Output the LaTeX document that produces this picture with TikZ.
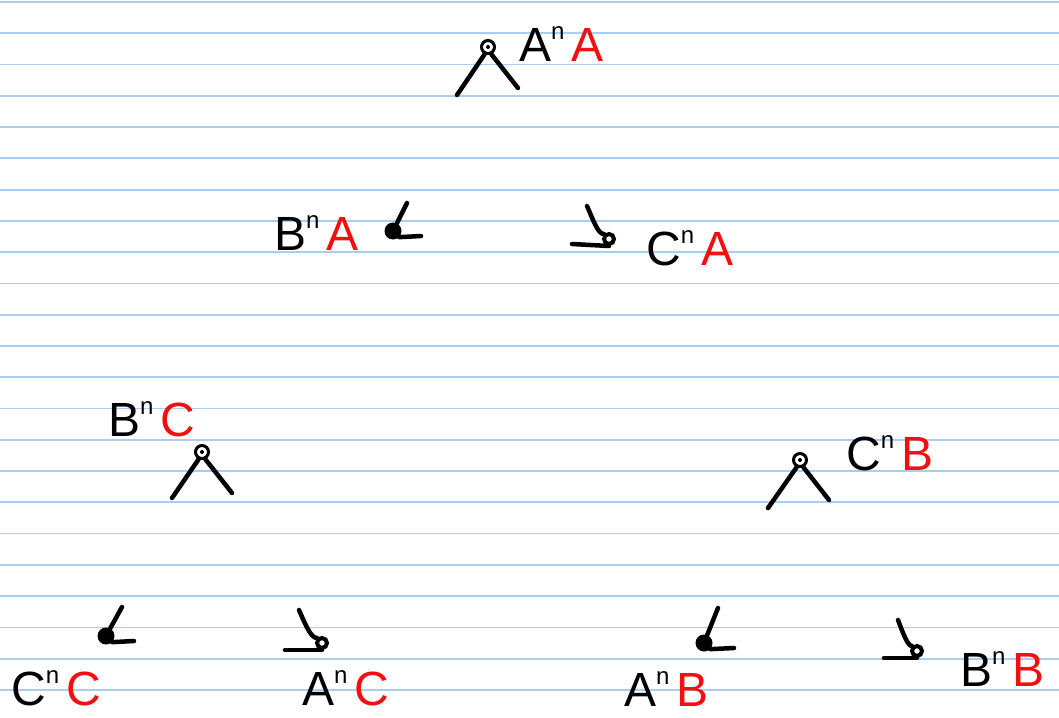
\documentclass[tikz,border=0pt]{standalone}
\usepackage{fontspec}
\setmainfont{Liberation Sans}
\usetikzlibrary{positioning}
\definecolor{PaperRule}{HTML}{A9CDF3}
\definecolor{InkRed}{HTML}{F01010}
\tikzset{
  ink/.style={line width=4.5pt,line cap=round,line join=round,draw=black},
  rule/.style={draw=PaperRule,line width=1.8pt},
  word/.style={anchor=base west,inner sep=0pt,font=\fontsize{48}{48}\selectfont},
  knot/.style={circle,draw=black,line width=3pt,inner sep=0pt,minimum size=13pt},
  leafL/.style={circle,fill=black,inner sep=0pt,minimum size=17pt},
  leafR/.style={circle,draw=black,line width=4pt,inner sep=0pt,minimum size=10pt}
}
\newcommand{\pw}[2]{#1\raisebox{22pt}{\fontsize{24}{24}\selectfont n}\hspace{0.15em}\textcolor{InkRed}{#2}}

\begin{document}
\begin{tikzpicture}[x=1pt,y=-1pt]
  \useasboundingbox (0,0) rectangle (1059,717);
  \fill[white] (0,0) rectangle (1059,717);
  \foreach \k in {0,...,22}
    \draw[rule] (0,{2+31.27*\k}) -- (1059,{2+31.27*\k});

  % top split
  \node[knot] (root) at (488,47) {};
  \fill (root) circle (2pt);
  \coordinate (rootL) at (457,95);
  \coordinate (rootR) at (518,88);
  \draw[ink] (root.-115) -- (rootL);
  \draw[ink] (root.-65) -- (rootR);
  \node[word] (rootLbl) at (519,62) {\pw{A}{A}};

  % second row
  \node[leafL] (bnaDot) at (393,231) {};
  \coordinate (bnaTip) at (407,203);
  \coordinate (bnaEnd) at (421,236);
  \draw[ink] (bnaDot) -- (bnaTip);
  \draw[ink] (bnaDot.south east) -- (bnaEnd);
  \node[word] (bnaLbl) at (274,250) {\pw{B}{A}};

  \node[leafR] (cnaDot) at (609,239) {};
  \coordinate (cnaTop) at (587,206);
  \coordinate (cnaTail) at (572,244);
  \draw[ink] (cnaTop) .. controls (594,222) and (598,234) .. (cnaDot.north west);
  \draw[ink] (cnaTail) -- (cnaDot.south);
  \node[word] (cnaLbl) at (646,265) {\pw{C}{A}};

  % left split
  \node[knot] (left) at (202,452) {};
  \fill (left) circle (2pt);
  \coordinate (leftL) at (172,498);
  \coordinate (leftR) at (232,493);
  \draw[ink] (left.-115) -- (leftL);
  \draw[ink] (left.-65) -- (leftR);
  \node[word] (leftLbl) at (108,436) {\pw{B}{C}};

  % right split
  \node[knot] (right) at (800,460) {};
  \fill (right) circle (2pt);
  \coordinate (rightL) at (768,508);
  \coordinate (rightR) at (829,500);
  \draw[ink] (right.-115) -- (rightL);
  \draw[ink] (right.-65) -- (rightR);
  \node[word] (rightLbl) at (846,470) {\pw{C}{B}};

  % bottom row
  \node[leafL] (cncDot) at (106,636) {};
  \coordinate (cncTip) at (122,607);
  \coordinate (cncEnd) at (134,641);
  \draw[ink] (cncDot) -- (cncTip);
  \draw[ink] (cncDot.south east) -- (cncEnd);
  \node[word] (cncLbl) at (11,705) {\pw{C}{C}};

  \node[leafR] (ancDot) at (322,643) {};
  \coordinate (ancTop) at (299,610);
  \coordinate (ancTail) at (285,650);
  \draw[ink] (ancTop) .. controls (306,626) and (311,638) .. (ancDot.north west);
  \draw[ink] (ancTail) -- (ancDot.south);
  \node[word] (ancLbl) at (302,705) {\pw{A}{C}};

  \node[leafL] (anbDot) at (704,643) {};
  \coordinate (anbTip) at (718,608);
  \coordinate (anbEnd) at (734,648);
  \draw[ink] (anbDot) -- (anbTip);
  \draw[ink] (anbDot.south east) -- (anbEnd);
  \node[word] (anbLbl) at (624,706) {\pw{A}{B}};

  \node[leafR] (bnbDot) at (917,651) {};
  \coordinate (bnbTop) at (898,620);
  \coordinate (bnbTail) at (884,658);
  \draw[ink] (bnbTop) .. controls (904,636) and (908,646) .. (bnbDot.north west);
  \draw[ink] (bnbTail) -- (bnbDot.south);
  \node[word] (bnbLbl) at (960,686) {\pw{B}{B}};
\end{tikzpicture}
\end{document}
